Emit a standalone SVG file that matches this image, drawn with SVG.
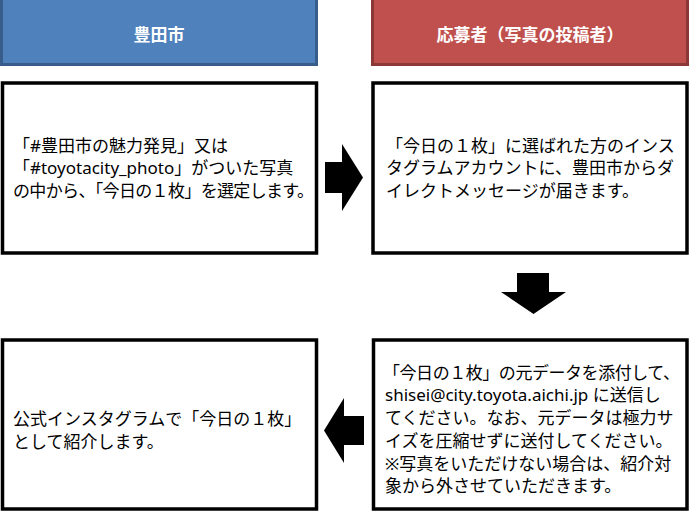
<svg xmlns="http://www.w3.org/2000/svg" width="690" height="512" viewBox="0 0 690 512">
<style>
.hdr-b{fill:#4F81BD;stroke:#385D8A;stroke-width:3}
.hdr-r{fill:#C0504D;stroke:#8C3836;stroke-width:3}
.box{fill:#FFFFFF;stroke:#000000;stroke-width:3.5}
.htxt{font-family:"Noto Sans CJK JP",sans-serif;font-size:17px;font-weight:700;fill:#FFFFFF;text-anchor:middle}
.body{font-family:"Noto Sans","Noto Sans CJK JP",sans-serif;font-size:17px;fill:#000000}
.arrow{fill:#000000}
</style>
<rect width="690" height="512" fill="#FFFFFF"/>
<g id="header-city">
<rect class="hdr-b" x="1.5" y="-2" width="315" height="66.5"/>
<text class="htxt" x="159" y="40.5">豊田市</text>
</g>
<g id="header-applicant">
<rect class="hdr-r" x="372.5" y="-2" width="315" height="66.5"/>
<text class="htxt" x="530" y="40.5">応募者（写真の投稿者）</text>
</g>
<g id="step1">
<rect class="box" x="2.5" y="83" width="314" height="170"/>
<text class="body" x="13" y="151.5">「#豊田市の魅力発見」又は</text>
<text class="body" x="13" y="174">「#toyotacity_photo」がついた写真</text>
<text class="body" x="13" y="197" textLength="301" lengthAdjust="spacing">の中から、「今日の１枚」を選定します。</text>
</g>
<g id="step2">
<rect class="box" x="373" y="83" width="314" height="170"/>
<text class="body" x="386" y="151.5">「今日の１枚」に選ばれた方のインス</text>
<text class="body" x="386" y="174">タグラムアカウントに、豊田市からダ</text>
<text class="body" x="386" y="197">イレクトメッセージが届きます。</text>
</g>
<g id="step3">
<rect class="box" x="373.5" y="340" width="313.5" height="169"/>
<text class="body" x="383" y="378.5" textLength="297" lengthAdjust="spacing">「今日の１枚」の元データを添付して、</text>
<text class="body" x="385" y="401">shisei@city.toyota.aichi.jp  に送信し</text>
<text class="body" x="385" y="424">てください。なお、元データは極力サ</text>
<text class="body" x="385" y="446.5">イズを圧縮せずに送付してください。</text>
<text class="body" x="385" y="469.5">※写真をいただけない場合は、紹介対</text>
<text class="body" x="385" y="492">象から外させていただきます。</text>
</g>
<g id="step4">
<rect class="box" x="2.5" y="340" width="314" height="169"/>
<text class="body" x="13" y="424.5">公式インスタグラムで「今日の１枚」</text>
<text class="body" x="13" y="447.5">として紹介します。</text>
</g>
<g id="connectors">
<polygon class="arrow" points="325,162 342,162 342,144 363,177.5 342,211 342,193 325,193"/>
<polygon class="arrow" points="517,273 549,273 549,292 566,292 533.5,314 501,292 517,292"/>
<polygon class="arrow" points="364,416 344,416 344,398 324,430.5 344,463 344,445 364,445"/>
</g>
</svg>
